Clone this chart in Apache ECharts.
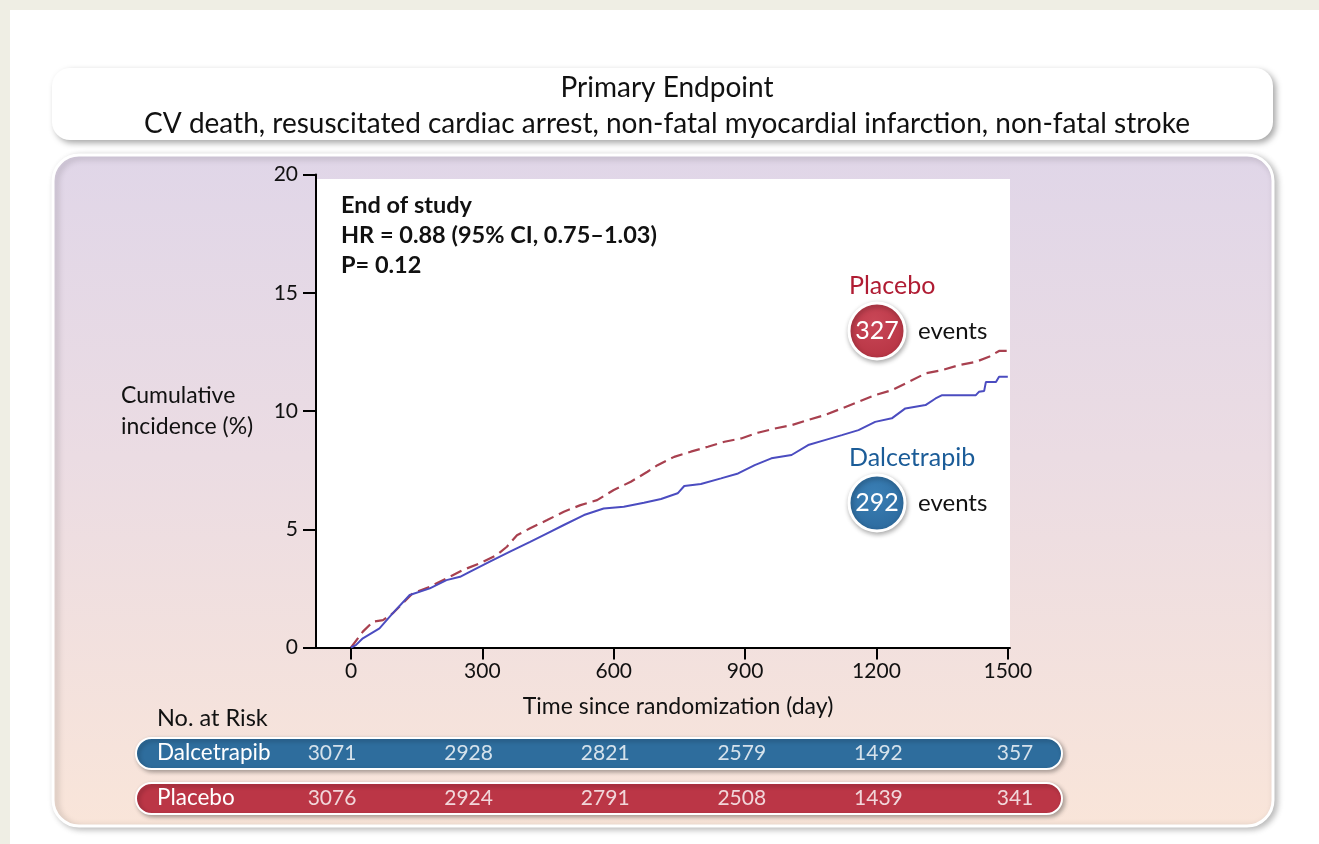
<!DOCTYPE html>
<html>
<head>
<meta charset="utf-8">
<script src="https://cdn.jsdelivr.net/npm/echarts@6/dist/echarts.min.js"></script>
<style>
html,body{margin:0;padding:0;background:#efeee4;}
#c{position:absolute;left:0;top:0;width:1319px;height:844px;}
</style>
</head>
<body>
<div id="c"></div>
<script>
// ---- data ----
const placeboDays = [0, 27, 50, 73, 95, 118, 141, 180, 218, 256, 294, 333, 356, 379, 409, 448, 486, 524, 562, 600, 639, 677, 700, 738, 776, 815, 853, 891, 929, 968, 1006, 1044, 1082, 1121, 1159, 1197, 1235, 1274, 1312, 1350, 1389, 1427, 1457, 1480, 1500];
const placeboVals = [0.0, 0.67, 1.09, 1.16, 1.44, 1.87, 2.29, 2.57, 2.92, 3.28, 3.56, 3.91, 4.26, 4.75, 5.04, 5.39, 5.74, 6.02, 6.23, 6.66, 7.01, 7.43, 7.71, 8.06, 8.28, 8.49, 8.70, 8.84, 9.08, 9.26, 9.40, 9.62, 9.83, 10.11, 10.39, 10.67, 10.88, 11.23, 11.59, 11.73, 11.94, 12.08, 12.29, 12.54, 12.54];
const dalDays = [0, 11, 27, 65, 95, 134, 180, 218, 249, 271, 317, 363, 409, 448, 486, 532, 577, 623, 669, 708, 746, 761, 799, 845, 884, 922, 960, 1006, 1044, 1082, 1121, 1159, 1197, 1235, 1266, 1312, 1335, 1350, 1427, 1434, 1446, 1450, 1473, 1480, 1500];
const dalVals = [0, 0.10, 0.39, 0.81, 1.44, 2.22, 2.50, 2.85, 2.99, 3.20, 3.63, 4.05, 4.47, 4.83, 5.18, 5.60, 5.88, 5.95, 6.12, 6.28, 6.52, 6.83, 6.91, 7.15, 7.36, 7.71, 8.00, 8.14, 8.56, 8.77, 8.98, 9.19, 9.54, 9.69, 10.11, 10.25, 10.53, 10.67, 10.67, 10.81, 10.85, 11.23, 11.23, 11.45, 11.45];
const xTicks = [0, 300, 600, 900, 1200, 1500];
const yTicks = [0, 5, 10, 15, 20];
const riskCols = [0, 1, 2, 3, 4, 5];
const dalRisk = [3071, 2928, 2821, 2579, 1492, 357];
const placeboRisk = [3076, 2924, 2791, 2508, 1439, 341];
const groupNames = ['Dalcetrapib', 'Placebo'];
const groupEvents = [292, 327];
const titleText = 'Primary Endpoint';
const subtitleText = 'CV death, resuscitated cardiac arrest, non-fatal myocardial infarction, non-fatal stroke';
const statLines = ['End of study', 'HR = 0.88 (95% CI, 0.75\u20131.03)', 'P= 0.12'];

const FONT = 'Lato, "Open Sans", sans-serif';
const RED = '#bb3646', BLUE = '#2e6d9d';

const chart = echarts.init(document.getElementById('c'), null, {renderer: 'canvas'});

const pairs = (xs, ys) => xs.map((x, i) => [x, ys[i]]);
const txt = (text, x, y, font, fill, align, z, extra) => Object.assign({
  type: 'text', z: z || 5,
  style: Object.assign({text: text, x: x, y: y, fill: fill, font: font,
    align: align, verticalAlign: 'middle', textAlign: align, textVerticalAlign: 'middle'}, extra || {})
});

const graphics = [
  // white page
  {type: 'rect', z: -10, shape: {x: 10, y: 10, width: 1309, height: 834}, style: {fill: '#ffffff'}},
  // title box
  {type: 'rect', z: -9, shape: {x: 52, y: 68, width: 1221, height: 72, r: 18},
   style: {fill: '#ffffff', shadowColor: 'rgba(0,0,0,0.35)', shadowBlur: 6, shadowOffsetX: 3, shadowOffsetY: 3}},
  // gradient panel
  {type: 'rect', z: -9, shape: {x: 53, y: 155, width: 1220, height: 671, r: 26},
   style: {
     fill: new echarts.graphic.LinearGradient(0, 0, 0, 1, [
       {offset: 0, color: '#e0d6e8'}, {offset: 0.45, color: '#ebdce3'}, {offset: 1, color: '#f9e5d9'}]),
     stroke: '#ffffff', lineWidth: 3,
     shadowColor: 'rgba(0,0,0,0.25)', shadowBlur: 6, shadowOffsetX: 3, shadowOffsetY: 2}},
  // white plot area
  {type: 'rect', z: -8, shape: {x: 317, y: 179, width: 693, height: 469}, style: {fill: '#ffffff'}},
  // risk table bars
  {type: 'rect', z: -7, shape: {x: 136, y: 738, width: 926, height: 31, r: 15.5},
   style: {fill: BLUE, stroke: '#ffffff', lineWidth: 2, shadowColor: 'rgba(0,0,0,0.3)', shadowBlur: 4, shadowOffsetX: 2, shadowOffsetY: 2}},
  {type: 'rect', z: -7, shape: {x: 136, y: 783, width: 926, height: 31, r: 15.5},
   style: {fill: RED, stroke: '#ffffff', lineWidth: 2, shadowColor: 'rgba(0,0,0,0.3)', shadowBlur: 4, shadowOffsetX: 2, shadowOffsetY: 2}},
  txt(groupNames[0], 157, 753, '22.5px ' + FONT, '#ffffff', 'left'),
  txt(groupNames[1], 157, 798, '22.5px ' + FONT, '#ffffff', 'left'),
  txt('No. at Risk', 157, 718, '23.5px ' + FONT, '#111111', 'left'),
  // stats annotation
  {type: 'text', z: 5, style: {text: statLines.join('\n'), x: 341, y: 190, fill: '#111111', font: 'bold 23.5px ' + FONT, lineHeight: 30,
    align: 'left', verticalAlign: 'top', textAlign: 'left', textVerticalAlign: 'top'}},
  // group labels
  txt(groupNames[1], 849, 286, '25px ' + FONT, '#b01c33', 'left'),
  txt(groupNames[0], 849, 458, '25px ' + FONT, '#1b5c98', 'left'),
  {type: 'circle', z: 5, shape: {cx: 877, cy: 331, r: 28},
   style: {fill: new echarts.graphic.RadialGradient(0.45, 0.35, 0.8, [{offset: 0, color: '#c94757'}, {offset: 1, color: '#b3303f'}]),
     stroke: '#ffffff', lineWidth: 3, shadowColor: 'rgba(0,0,0,0.3)', shadowBlur: 5, shadowOffsetX: 1, shadowOffsetY: 2}},
  {type: 'circle', z: 5, shape: {cx: 877, cy: 503, r: 28},
   style: {fill: new echarts.graphic.RadialGradient(0.45, 0.35, 0.8, [{offset: 0, color: '#3a7fb5'}, {offset: 1, color: '#2a6699'}]),
     stroke: '#ffffff', lineWidth: 3, shadowColor: 'rgba(0,0,0,0.3)', shadowBlur: 5, shadowOffsetX: 1, shadowOffsetY: 2}},
  txt(String(groupEvents[1]), 877, 331, '25px ' + FONT, '#ffffff', 'center', 6),
  txt(String(groupEvents[0]), 877, 503, '25px ' + FONT, '#ffffff', 'center', 6),
  txt('events', 918, 331, '24px ' + FONT, '#111111', 'left'),
  txt('events', 918, 503, '24px ' + FONT, '#111111', 'left')
];

const option = {
  animation: false,
  backgroundColor: 'transparent',
  textStyle: {fontFamily: FONT},
  title: {
    text: titleText, subtext: subtitleText,
    left: 662, textAlign: 'center', top: 66, itemGap: 2,
    textStyle: {fontFamily: FONT, fontSize: 28, fontWeight: 'normal', color: '#111111', lineHeight: 34},
    subtextStyle: {fontFamily: FONT, fontSize: 28, color: '#111111', lineHeight: 34}
  },
  graphic: {elements: graphics},
  grid: [
    {left: 316, right: 309, top: 174.5, bottom: 196.5, containLabel: false},
    {left: 332, right: 304, top: 753, height: 45, containLabel: false}
  ],
  xAxis: [
    {
      type: 'value', gridIndex: 0, min: -80, max: 1505,
      name: 'Time since randomization (day)', nameLocation: 'middle', nameGap: 48,
      nameTextStyle: {fontFamily: FONT, fontSize: 23, color: '#111111', padding: [0, 0, 0, 30]},
      axisLine: {show: true, onZero: false, lineStyle: {color: '#000000', width: 2}},
      axisTick: {show: true, length: 12, lineStyle: {color: '#000000', width: 2}, customValues: xTicks},
      axisLabel: {fontFamily: FONT, fontSize: 21, color: '#111111', margin: 13, customValues: xTicks, formatter: v => String(v)},
      splitLine: {show: false}
    },
    {
      type: 'value', gridIndex: 1, min: 0, max: 5, show: false
    }
  ],
  yAxis: [
    {
      type: 'value', gridIndex: 0, min: 0, max: 20, interval: 5,
      name: 'Cumulative\nincidence (%)', nameLocation: 'middle', nameRotate: 0, nameGap: 195,
      nameTextStyle: {fontFamily: FONT, fontSize: 23, color: '#111111', align: 'left', lineHeight: 31},
      axisLine: {show: true, onZero: false, lineStyle: {color: '#000000', width: 2}},
      axisTick: {show: true, length: 13, lineStyle: {color: '#000000', width: 2}},
      axisLabel: {fontFamily: FONT, fontSize: 21, color: '#111111', margin: 18, formatter: v => String(v)},
      splitLine: {show: false}
    },
    {
      type: 'value', gridIndex: 1, min: 0, max: 1, show: false
    }
  ],
  series: [
    {
      name: groupNames[1], type: 'line', xAxisIndex: 0, yAxisIndex: 0,
      data: pairs(placeboDays, placeboVals), showSymbol: false, symbol: 'none',
      lineStyle: {color: '#a8404f', width: 2.2, type: [12, 6]}, z: 3
    },
    {
      name: groupNames[0], type: 'line', xAxisIndex: 0, yAxisIndex: 0,
      data: pairs(dalDays, dalVals), showSymbol: false, symbol: 'none',
      lineStyle: {color: '#4b4cc0', width: 2}, z: 4
    },
    {
      name: 'risk', type: 'scatter', xAxisIndex: 1, yAxisIndex: 1, symbolSize: 1,
      itemStyle: {color: 'rgba(0,0,0,0)'}, silent: true, z: 6,
      data: riskCols.map((c, i) => [c, 1, dalRisk[i]]).concat(riskCols.map((c, i) => [c, 0, placeboRisk[i]])),
      label: {show: true, position: 'inside', formatter: p => String(p.value[2]), color: '#ffffff', fontFamily: FONT, fontSize: 21}
    }
  ]
};
chart.setOption(option);
</script>
</body>
</html>
